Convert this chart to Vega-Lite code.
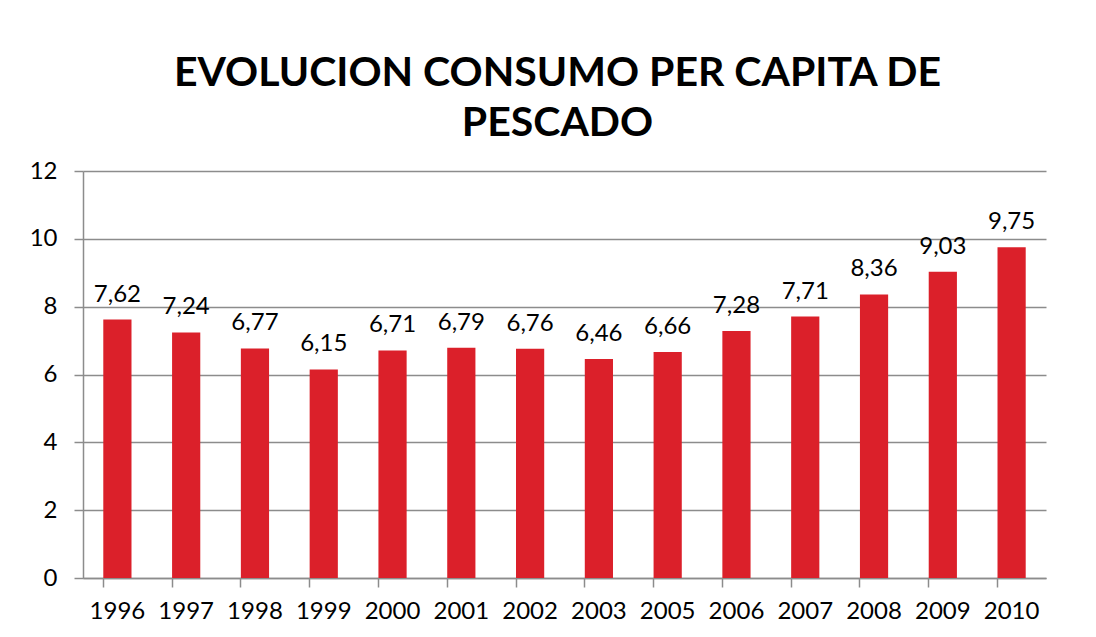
{
  "$schema": "https://vega.github.io/schema/vega-lite/v6.json",
  "width": 963,
  "height": 407,
  "autosize": {"type": "none"},
  "padding": {"left": 83, "top": 171, "right": 50, "bottom": 59},
  "background": "white",
  "title": {
    "text": ["EVOLUCION CONSUMO PER CAPITA DE", "PESCADO"],
    "font": "Lato",
    "fontSize": 41,
    "fontWeight": "bold",
    "color": "#000000",
    "lineHeight": 50,
    "anchor": "middle",
    "dx": -7,
    "offset": 14
  },
  "config": {
    "view": {"stroke": null},
    "axis": {"labelFont": "Lato", "labelFontSize": 24, "labelColor": "#000000", "domainColor": "#8c8c8c", "tickColor": "#8c8c8c", "gridColor": "#8c8c8c", "domainWidth": 1.5, "tickWidth": 1.5, "gridWidth": 1.5}
  },
  "data": {
    "values": [
      {"year": "1996", "value": 7.62, "label": "7,62"},
      {"year": "1997", "value": 7.24, "label": "7,24"},
      {"year": "1998", "value": 6.77, "label": "6,77"},
      {"year": "1999", "value": 6.15, "label": "6,15"},
      {"year": "2000", "value": 6.71, "label": "6,71"},
      {"year": "2001", "value": 6.79, "label": "6,79"},
      {"year": "2002", "value": 6.76, "label": "6,76"},
      {"year": "2003", "value": 6.46, "label": "6,46"},
      {"year": "2005", "value": 6.66, "label": "6,66"},
      {"year": "2006", "value": 7.28, "label": "7,28"},
      {"year": "2007", "value": 7.71, "label": "7,71"},
      {"year": "2008", "value": 8.36, "label": "8,36"},
      {"year": "2009", "value": 9.03, "label": "9,03"},
      {"year": "2010", "value": 9.75, "label": "9,75"}
    ]
  },
  "encoding": {
    "x": {
      "field": "year",
      "type": "nominal",
      "sort": null,
      "title": null,
      "scale": {"paddingInner": 0.59, "paddingOuter": 0.295},
      "axis": {"labelAngle": 0, "bandPosition": 0, "tickSize": 9, "labelPadding": 12, "labelBaseline": "top", "grid": false}
    }
  },
  "layer": [
    {
      "mark": {"type": "bar", "color": "#DB202A"},
      "encoding": {
        "y": {
          "field": "value",
          "type": "quantitative",
          "title": null,
          "scale": {"domain": [0, 12]},
          "axis": {"values": [0, 2, 4, 6, 8, 10, 12], "tickSize": 9, "labelPadding": 17, "grid": true}
        }
      }
    },
    {
      "mark": {"type": "text", "font": "Lato", "fontSize": 24, "color": "#000000", "baseline": "alphabetic", "dy": -18},
      "encoding": {
        "y": {"field": "value", "type": "quantitative"},
        "text": {"field": "label"}
      }
    }
  ]
}
